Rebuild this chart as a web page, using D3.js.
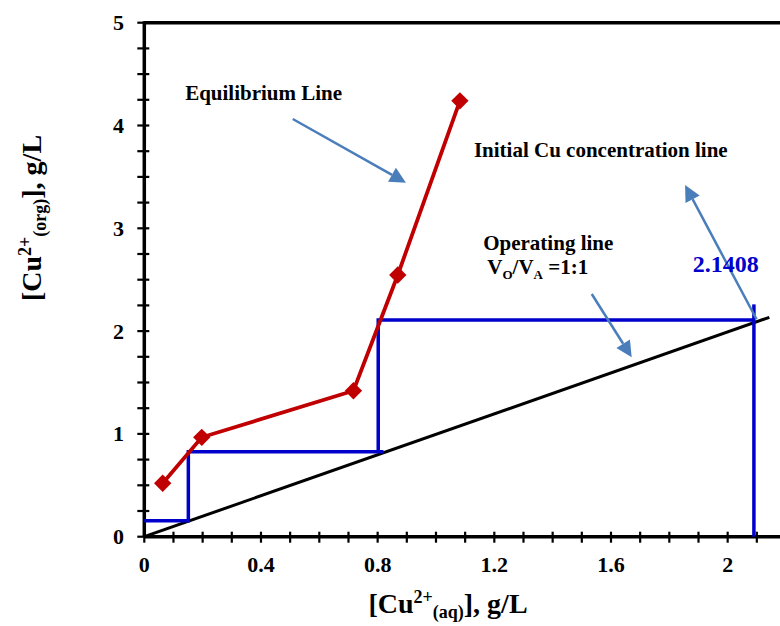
<!DOCTYPE html>
<html><head><meta charset="utf-8">
<script src="https://cdn.jsdelivr.net/npm/d3@7/dist/d3.min.js"></script>
<style>
body{margin:0;background:#fff;}
text{font-family:"Liberation Serif","Times New Roman",serif;font-weight:bold;}
</style></head>
<body><svg id="c" width="780" height="626"></svg>
<script>
// ---- data ----
const eqX = [0.063, 0.197, 0.717, 0.869, 1.082];
const eqY = [0.52, 0.967, 1.42, 2.546, 4.24];
const opX = [0, 2.143];
const opY = [0, 2.134];
const stepX = [0, 0.151, 0.151, 0.82, 0.802, 0.802, 2.09];
const stepY = [0.156, 0.156, 0.827, 0.827, 0.827, 2.108, 2.108];
const initX = [2.09, 2.09];
const initY = [0, 2.26];
const xTickLabels = [0, 0.4, 0.8, 1.2, 1.6, 2];
const yTickLabels = [0, 1, 2, 3, 4, 5];
const initLabel = "2.1408";

const svg = d3.select("#c");
const x = d3.scaleLinear().domain([0, 2.2]).range([144.3, 786]);
const y = d3.scaleLinear().domain([0, 5]).range([536.7, 22.7]);

// frame top line
svg.append("line").attr("x1", x(0)).attr("x2", 790).attr("y1", y(5)).attr("y2", y(5))
  .attr("stroke", "#000").attr("stroke-width", 3.5);

// minor/major ticks crossing axes
const xt = d3.range(0, 2.21, 0.1);
svg.selectAll(".xt").data(xt).enter().append("line")
  .attr("x1", d => x(d)).attr("x2", d => x(d))
  .attr("y1", y(0) - 5).attr("y2", y(0) + 6)
  .attr("stroke", "#000").attr("stroke-width", 2.2);
const yt = d3.range(0, 5.01, 0.25);
svg.selectAll(".yt").data(yt).enter().append("line")
  .attr("x1", x(0) - 7).attr("x2", x(0) + 5)
  .attr("y1", d => y(d)).attr("y2", d => y(d))
  .attr("stroke", "#000").attr("stroke-width", 2.2);

// axes lines
svg.append("line").attr("x1", x(0)).attr("x2", 790).attr("y1", y(0)).attr("y2", y(0))
  .attr("stroke", "#000").attr("stroke-width", 3.5);
svg.append("line").attr("x1", x(0)).attr("x2", x(0)).attr("y1", y(0)).attr("y2", y(5) - 1.5)
  .attr("stroke", "#000").attr("stroke-width", 3.5);

// tick labels
svg.selectAll(".xl").data(xTickLabels).enter().append("text")
  .attr("x", d => x(d)).attr("y", 572).attr("text-anchor", "middle")
  .attr("font-size", 22).text(d => d);
svg.selectAll(".yl").data(yTickLabels).enter().append("text")
  .attr("x", 124).attr("y", d => y(d) + 7.5).attr("text-anchor", "end")
  .attr("font-size", 22).text(d => d);

// axis titles
const xtitle = svg.append("text").attr("x", 448).attr("y", 613).attr("text-anchor", "middle").attr("font-size", 28);
xtitle.append("tspan").text("[Cu");
xtitle.append("tspan").attr("font-size", 18).attr("dy", -10).text("2+");
xtitle.append("tspan").attr("font-size", 18).attr("dy", 15).text("(aq)");
xtitle.append("tspan").attr("dy", -5).text("], g/L");

const ytitle = svg.append("text").attr("transform", "translate(41,218) rotate(-90)")
  .attr("text-anchor", "middle").attr("font-size", 28);
ytitle.append("tspan").text("[Cu");
ytitle.append("tspan").attr("font-size", 18).attr("dy", -10).text("2+");
ytitle.append("tspan").attr("font-size", 18).attr("dy", 15).text("(org)");
ytitle.append("tspan").attr("dy", -5).text("], g/L");

const line = d3.line().x(d => x(d[0])).y(d => y(d[1]));

// operating line
svg.append("path").datum(opX.map((v, i) => [v, opY[i]])).attr("d", line)
  .attr("fill", "none").attr("stroke", "#000").attr("stroke-width", 3);

// steps
svg.append("path").datum(stepX.map((v, i) => [v, stepY[i]])).attr("d", line)
  .attr("fill", "none").attr("stroke", "#0000CC").attr("stroke-width", 3.5);
svg.append("path").datum(initX.map((v, i) => [v, initY[i]])).attr("d", line)
  .attr("fill", "none").attr("stroke", "#0000CC").attr("stroke-width", 3.5);

// equilibrium line
const eq = eqX.map((v, i) => [v, eqY[i]]);
svg.append("path").datum(eq).attr("d", line)
  .attr("fill", "none").attr("stroke", "#C00000").attr("stroke-width", 3.8);
svg.selectAll(".pt").data(eq).enter().append("path")
  .attr("d", d3.symbol(d3.symbolSquare, 150)())
  .attr("transform", d => `translate(${x(d[0])},${y(d[1])}) rotate(45)`)
  .attr("fill", "#C00000");

// arrows
const arrows = [
  [[0.509, 4.063], [0.897, 3.444]],
  [[1.534, 2.361], [1.671, 1.745]],
  [[2.099, 2.115], [1.854, 3.421]]
];
const ac = "#4A7EBB";
arrows.forEach(a => {
  const x1 = x(a[0][0]), y1 = y(a[0][1]), x2 = x(a[1][0]), y2 = y(a[1][1]);
  const ang = Math.atan2(y2 - y1, x2 - x1);
  const L = 16, W = 8;
  const bx = x2 - L * Math.cos(ang), by = y2 - L * Math.sin(ang);
  svg.append("line").attr("x1", x1).attr("y1", y1).attr("x2", bx).attr("y2", by)
    .attr("stroke", ac).attr("stroke-width", 2.5);
  const px = -Math.sin(ang), py = Math.cos(ang);
  svg.append("path").attr("d", `M${x2},${y2}L${bx + W * px},${by + W * py}L${bx - W * px},${by - W * py}Z`)
    .attr("fill", ac);
});

// annotations
svg.append("text").attr("x", x(0.140)).attr("y", y(4.247)).attr("font-size", 21).text("Equilibrium Line");
svg.append("text").attr("x", x(1.130)).attr("y", y(3.691)).attr("font-size", 21).text("Initial Cu concentration line");
svg.append("text").attr("x", x(1.162)).attr("y", y(2.789)).attr("font-size", 21).text("Operating line");
const vt = svg.append("text").attr("x", x(1.176)).attr("y", y(2.555)).attr("font-size", 21);
vt.append("tspan").text("V");
vt.append("tspan").attr("font-size", 13).attr("dy", 5).text("O");
vt.append("tspan").attr("dy", -5).text("/V");
vt.append("tspan").attr("font-size", 13).attr("dy", 5).text("A");
vt.append("tspan").attr("dy", -5).text(" =1:1");
svg.append("text").attr("x", x(1.880)).attr("y", y(2.578)).attr("font-size", 24)
  .attr("fill", "#0000CC").text(initLabel);
</script></body></html>
